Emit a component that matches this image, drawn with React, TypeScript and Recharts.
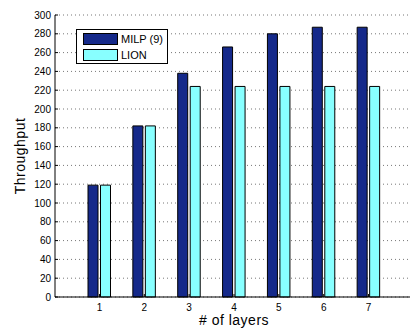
import { BarChart, Bar, XAxis, YAxis, CartesianGrid, Legend } from 'recharts'

const layers = [1, 2, 3, 4, 5, 6, 7]
const milp = [119, 182, 238, 266, 280, 287, 287]
const lion = [119, 182, 224, 224, 224, 224, 224]
const yTicks = [0, 20, 40, 60, 80, 100, 120, 140, 160, 180, 200, 220, 240, 260, 280, 300]

const data = layers.map((layer, i) => ({ layer, milp: milp[i], lion: lion[i] }))

const MILP_COLOR = '#15298a'
const LION_COLOR = '#88ffff'
const FONT = '"Liberation Sans", Arial, sans-serif'

function LegendBox() {
  const rows = [
    { name: 'MILP (9)', color: MILP_COLOR },
    { name: 'LION', color: LION_COLOR },
  ]
  return (
    <div
      style={{
        boxSizing: 'border-box',
        width: 92,
        height: 35,
        border: '1px solid #000',
        background: '#fff',
        padding: '3px 0 0 6px',
        fontFamily: FONT,
        fontSize: 11,
        color: '#000',
      }}
    >
      {rows.map((r) => (
        <div key={r.name} style={{ display: 'flex', alignItems: 'center', height: 12, marginBottom: 4 }}>
          <div style={{ boxSizing: 'border-box', width: 35, height: 12, background: r.color, border: '1px solid #000' }} />
          <span style={{ marginLeft: 3, lineHeight: '12px' }}>{r.name}</span>
        </div>
      ))}
    </div>
  )
}

export default function App() {
  const tickStyle = { fontSize: 10, fill: '#000', fontFamily: FONT }
  return (
    <div style={{ position: 'absolute', left: 0, top: 0, width: 410, height: 329, overflow: 'hidden', background: '#fff' }}>
      <BarChart
        width={420}
        height={329}
        data={data}
        margin={{ top: 15, right: 7, left: 0, bottom: 0 }}
        barGap={2.5}
        style={{ fontFamily: FONT }}
      >
        <CartesianGrid horizontal vertical={false} stroke="#777" strokeDasharray="1 3" />
        <XAxis
          dataKey="layer"
          height={32}
          padding={{ left: 22, right: 22 }}
          tick={tickStyle}
          tickSize={-3}
          tickMargin={10}
          stroke="#000"
          label={{ value: '# of layers', position: 'insideBottom', offset: 4, fontSize: 14, fill: '#000', style: { letterSpacing: 0.5 } }}
        />
        <XAxis
          xAxisId="top"
          dataKey="layer"
          orientation="top"
          height={0}
          padding={{ left: 22, right: 22 }}
          tickFormatter={() => ''}
          tickSize={-3}
          stroke="#333"
          strokeWidth={1.5}
        />
        <YAxis
          width={55}
          domain={[0, 300]}
          ticks={yTicks}
          interval={0}
          tick={tickStyle}
          tickSize={-3}
          tickMargin={7}
          stroke="#000"
          label={{ value: 'Throughput', angle: -90, position: 'insideLeft', offset: 20, fontSize: 14, fill: '#000', style: { textAnchor: 'middle', letterSpacing: 0.5 } }}
        />
        <Legend
          layout="horizontal"
          align="center"
          verticalAlign="middle"
          wrapperStyle={{ left: 76, top: 29, width: 92, height: 35 }}
          content={() => <LegendBox />}
        />
        <Bar dataKey="milp" name="MILP (9)" fill={MILP_COLOR} stroke="#000" strokeWidth={1} barSize={10} isAnimationActive={false} />
        <Bar dataKey="lion" name="LION" fill={LION_COLOR} stroke="#000" strokeWidth={1} barSize={10} isAnimationActive={false} />
      </BarChart>
    </div>
  )
}
